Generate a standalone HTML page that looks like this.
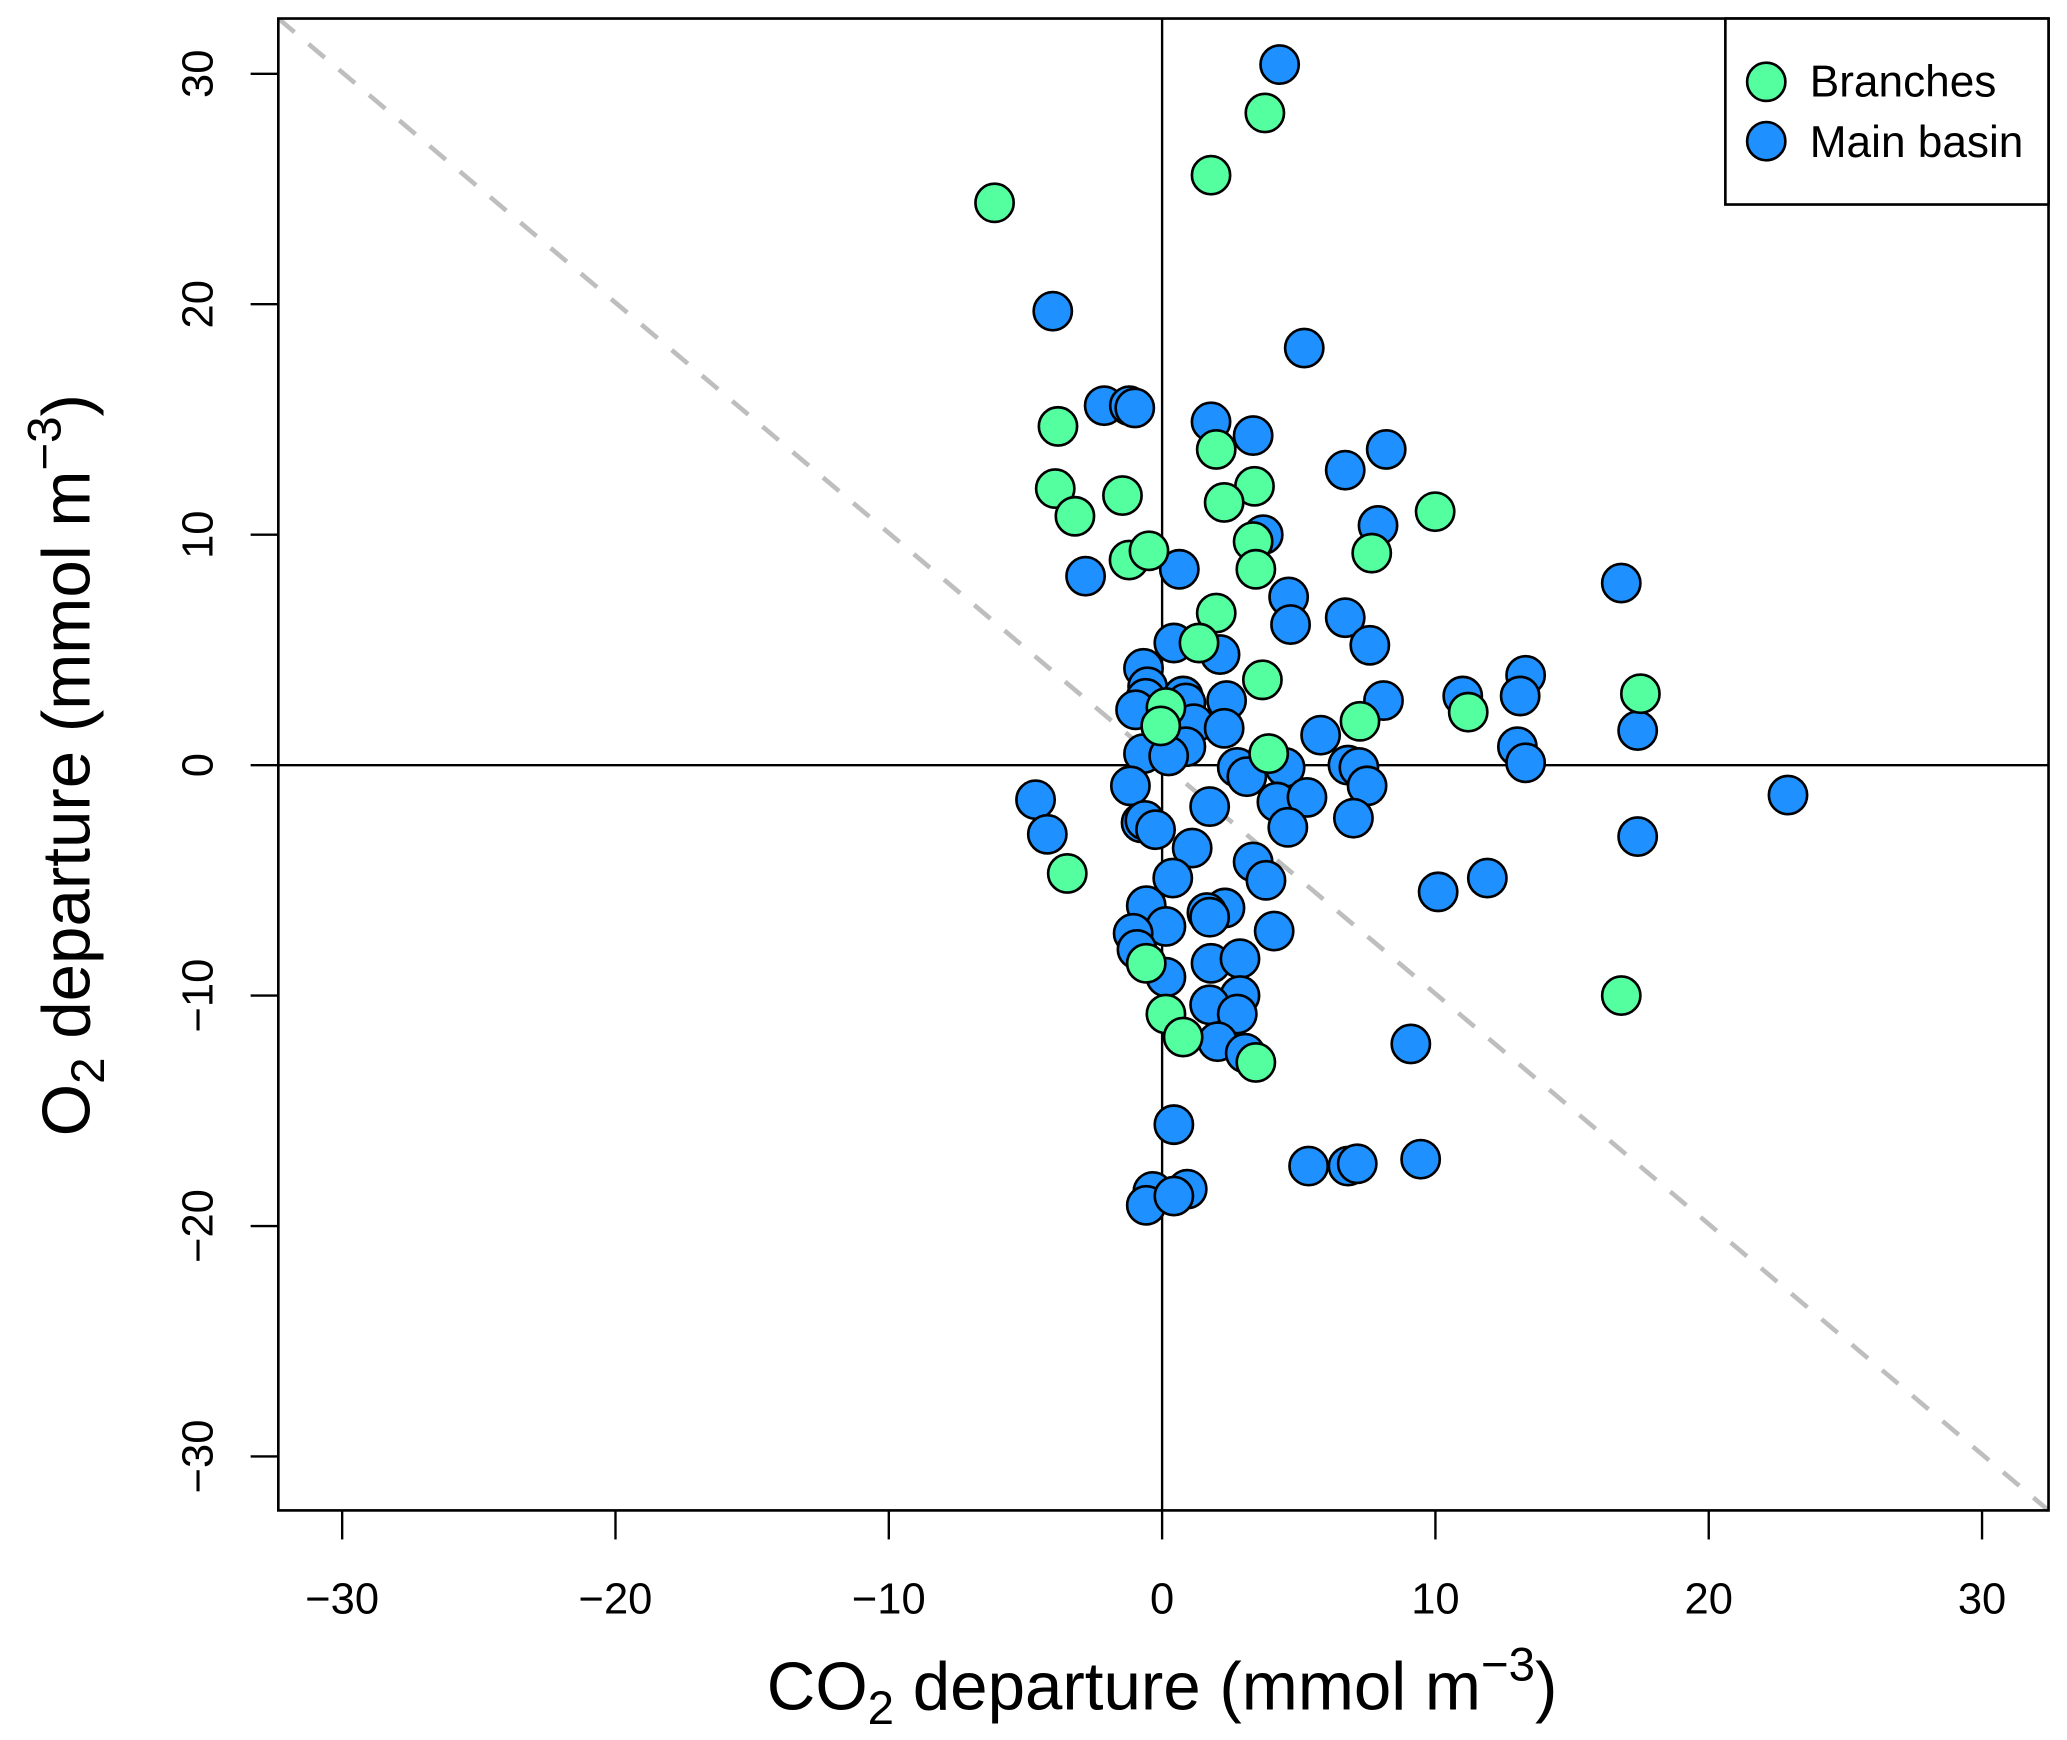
<!DOCTYPE html>
<html><head><meta charset="utf-8"><style>
html,body{margin:0;padding:0;background:#fff;}
svg{display:block;font-family:"Liberation Sans",Arial,sans-serif;}
</style></head><body>
<svg id="chart" width="2067" height="1740" viewBox="0 0 1567 1319" xmlns="http://www.w3.org/2000/svg">
<rect x="0" y="0" width="1567" height="1319" fill="#fff"/>
<line x1="211" y1="14" x2="1553" y2="1145" stroke="#bebebe" stroke-width="3.5" stroke-dasharray="16,14"/>
<g id="marks"></g>
<rect x="211" y="14" width="1342" height="1131" fill="none" stroke="#000" stroke-width="2"/>
<g id="xaxis"></g>
<g id="yaxis"></g>
<text x="881" y="1296" font-size="51" text-anchor="middle">CO<tspan font-size="36" dy="11">2</tspan><tspan dy="-11"> departure (mmol m</tspan><tspan font-size="36" dy="-22">−3</tspan><tspan dy="22">)</tspan></text>
<text transform="translate(68,580) rotate(-90)" font-size="51" text-anchor="middle">O<tspan font-size="36" dy="11">2</tspan><tspan dy="-11"> departure (mmol m</tspan><tspan font-size="36" dy="-22">−3</tspan><tspan dy="22">)</tspan></text>
<g>
<rect x="1308" y="14" width="245" height="141" fill="#fff" stroke="#000" stroke-width="2"/>
<circle cx="1339" cy="62" r="14.5" fill="#54FF9F" stroke="#000" stroke-width="2"/>
<text x="1372" y="73" font-size="33.5">Branches</text>
<circle cx="1339" cy="107" r="14.5" fill="#1E90FF" stroke="#000" stroke-width="2"/>
<text x="1372" y="119" font-size="33.5">Main basin</text>
</g>
</svg>
<script>
const xTicks = [-30,-20,-10,0,10,20,30];
const yTicks = [-30,-20,-10,0,10,20,30];
const branchesX = [-6.13,3.76,1.79,-3.81,1.98,-3.91,-1.45,3.38,2.27,-3.19,9.99,3.33,-1.21,-0.48,3.43,7.67,1.98,1.35,3.67,17.5,11.2,7.24,0.14,-0.05,3.9,-3.47,-0.58,0.14,0.77,3.43,16.8];
const branchesY = [24.4,28.3,25.6,14.7,13.7,12.0,11.7,12.1,11.4,10.8,11.0,9.7,8.9,9.3,8.5,9.2,6.6,5.3,3.7,3.1,2.3,1.9,2.5,1.7,0.5,-4.7,-8.6,-10.8,-11.8,-12.9,-10.0];
const mainX = [4.3,-4.0,5.2,-2.12,-1.2,-1.0,1.79,3.33,6.7,8.2,7.9,3.7,-2.8,0.63,16.8,4.63,4.7,6.7,0.43,2.12,7.6,-0.68,-0.53,-0.6,0.77,0.87,2.36,8.1,11.0,13.3,13.1,-0.97,1.16,2.27,5.8,17.4,13.0,13.3,-0.68,0.87,0.24,2.75,3.1,4.5,6.8,7.2,7.5,-1.16,-4.63,-4.2,1.74,4.2,5.3,4.6,7.0,22.9,17.4,-0.77,-0.63,-0.24,1.1,3.33,3.8,0.39,10.1,11.9,-0.58,2.3,1.64,1.74,0.14,-1.06,4.1,-0.92,1.79,2.85,0.14,2.85,1.74,2.75,2.03,3.04,9.1,0.43,5.36,6.8,7.14,9.46,-0.34,0.92,-0.58,0.43];
const mainY = [30.4,19.7,18.1,15.6,15.6,15.5,14.9,14.3,12.8,13.7,10.4,10.0,8.2,8.5,7.9,7.3,6.1,6.4,5.3,4.8,5.2,4.2,3.4,2.9,3.0,2.7,2.8,2.8,3.0,3.9,3.0,2.4,1.8,1.6,1.3,1.5,0.8,0.1,0.5,0.8,0.4,-0.1,-0.5,-0.1,0.0,-0.1,-0.9,-0.9,-1.5,-3.0,-1.8,-1.6,-1.4,-2.7,-2.3,-1.3,-3.1,-2.5,-2.4,-2.8,-3.6,-4.2,-5.0,-4.9,-5.5,-4.9,-6.1,-6.2,-6.4,-6.6,-7.0,-7.3,-7.2,-8.0,-8.6,-8.4,-9.2,-10.0,-10.4,-10.8,-12.0,-12.5,-12.1,-15.6,-17.4,-17.4,-17.3,-17.1,-18.5,-18.4,-19.1,-18.7];

const NS='http://www.w3.org/2000/svg';
function sx(v){return 881 + v*20.72;}
function sy(v){return 580 - v*17.47;}
function mk(tag,attrs,parent){const e=document.createElementNS(NS,tag);for(const k in attrs)e.setAttribute(k,attrs[k]);parent.appendChild(e);return e;}

const marks=document.getElementById('marks');
const zx=mk('line',{x1:sx(0),y1:14,x2:sx(0),y2:1145,stroke:'#000','stroke-width':1.8},marks);


const zy=mk('line',{x1:211,y1:sy(0),x2:1553,y2:sy(0),stroke:'#000','stroke-width':1.8},marks);



for(let i=0;i<mainX.length;i++){
  const c=mk('circle',{cx:sx(mainX[i]),cy:sy(mainY[i]),r:14.5,fill:'#1E90FF',stroke:'#000','stroke-width':2},marks);
  
  
}
for(let i=0;i<branchesX.length;i++){
  const c=mk('circle',{cx:sx(branchesX[i]),cy:sy(branchesY[i]),r:14.5,fill:'#54FF9F',stroke:'#000','stroke-width':2},marks);
  
  
}

const xa=document.getElementById('xaxis');
xTicks.forEach(t=>{
  const l=mk('line',{x1:sx(t),y1:1145,x2:sx(t),y2:1167,stroke:'#000','stroke-width':1.8},xa);
  
  
  const tx=mk('text',{x:sx(t),y:1223,'font-size':33,'text-anchor':'middle'},xa);
  tx.textContent=(t<0?'\u2212':'')+Math.abs(t);
  
  
});
const ya=document.getElementById('yaxis');
yTicks.forEach(t=>{
  const l=mk('line',{x1:190,y1:sy(t),x2:211,y2:sy(t),stroke:'#000','stroke-width':1.8},ya);
  
  
  const tx=mk('text',{transform:'translate(161,'+sy(t)+') rotate(-90)','font-size':33,'text-anchor':'middle'},ya);
  tx.textContent=(t<0?'\u2212':'')+Math.abs(t);
  
  
});
</script>
</body></html>
